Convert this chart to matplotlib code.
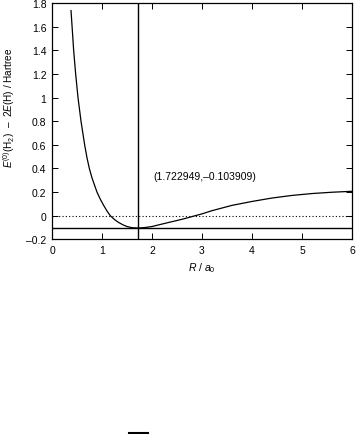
import numpy as np
import matplotlib
matplotlib.use("Agg")
import matplotlib.pyplot as plt
from matplotlib.lines import Line2D

plt.rcParams['font.family'] = ['Liberation Sans', 'DejaVu Sans']
plt.rcParams['mathtext.fontset'] = 'custom'
plt.rcParams['mathtext.rm'] = 'Liberation Sans'
plt.rcParams['mathtext.it'] = 'Liberation Sans:italic'

# curve: R / a0 and energy / Hartree
R = [0.38, 0.405, 0.433, 0.473, 0.52, 0.58, 0.653, 0.70, 0.747, 0.80, 0.85,
     0.90, 0.96, 1.03, 1.10, 1.167, 1.25, 1.33, 1.42, 1.50, 1.60, 1.723,
     1.85, 2.0, 2.3, 2.6, 2.86, 3.0, 3.2, 3.6, 4.0, 4.4, 4.8, 5.2, 5.6, 6.0]
E = [1.736, 1.58, 1.40, 1.20, 1.00, 0.80, 0.60, 0.49, 0.40, 0.32, 0.26,
     0.20, 0.145, 0.09, 0.04, 0.0, -0.032, -0.056, -0.077, -0.091, -0.101,
     -0.103909, -0.100, -0.091, -0.060, -0.030, 0.0, 0.016, 0.043, 0.088,
     0.121, 0.150, 0.172, 0.188, 0.199, 0.207]

R_min = 1.722949
E_min = -0.103909

xticks = [0, 1, 2, 3, 4, 5, 6]
yticks = [-0.2, 0, 0.2, 0.4, 0.6, 0.8, 1.0, 1.2, 1.4, 1.6, 1.8]
yticklabels = ["\u20130.2", "0", "0.2", "0.4", "0.6", "0.8", "1", "1.2", "1.4", "1.6", "1.8"]

W, H = 356, 435
fig = plt.figure(figsize=(W / 100, H / 100), dpi=100)
ax = fig.add_axes([52 / W, 1 - 240.4 / H, 300 / W, 236.4 / H])

ax.plot(R, E, color='black', lw=0.9)
ax.axhline(0, color='black', lw=0.8, linestyle=(0, (1, 2)))
ax.axhline(E_min, color='black', lw=1.0)
ax.axvline(R_min, color='black', lw=1.0)

ax.text(2.02, 0.333, "(%.6f,\u2013%.6f)" % (R_min, -E_min), fontsize=7.5,
        ha='left', va='center')

ax.set_xlim(0, 6)
ax.set_ylim(-0.2, 1.8)
ax.set_xticks(xticks)
ax.set_xticklabels([str(t) for t in xticks])
ax.set_yticks(yticks)
ax.set_yticklabels(yticklabels)
ax.tick_params(direction='in', length=4, width=0.7, labelsize=7.5,
               top=True, right=True, pad=4)
for s in ax.spines.values():
    s.set_linewidth(0.9)

ax.set_xlabel(r"$R$ / $a_0$", fontsize=7.5, labelpad=4)
ax.set_ylabel(r"$E^{(0)}$(H$_2$)  " + "\u2013" + r"  2$E$(H) / Hartree",
              fontsize=7.2)
ax.yaxis.set_label_coords(-0.115, 0.56)

# short rule at the very bottom of the page
fig.add_artist(Line2D([129 / W, 148 / W], [1 - 434 / H] * 2, color='black',
                      lw=1.5))

fig.savefig("out.png", dpi=100)
